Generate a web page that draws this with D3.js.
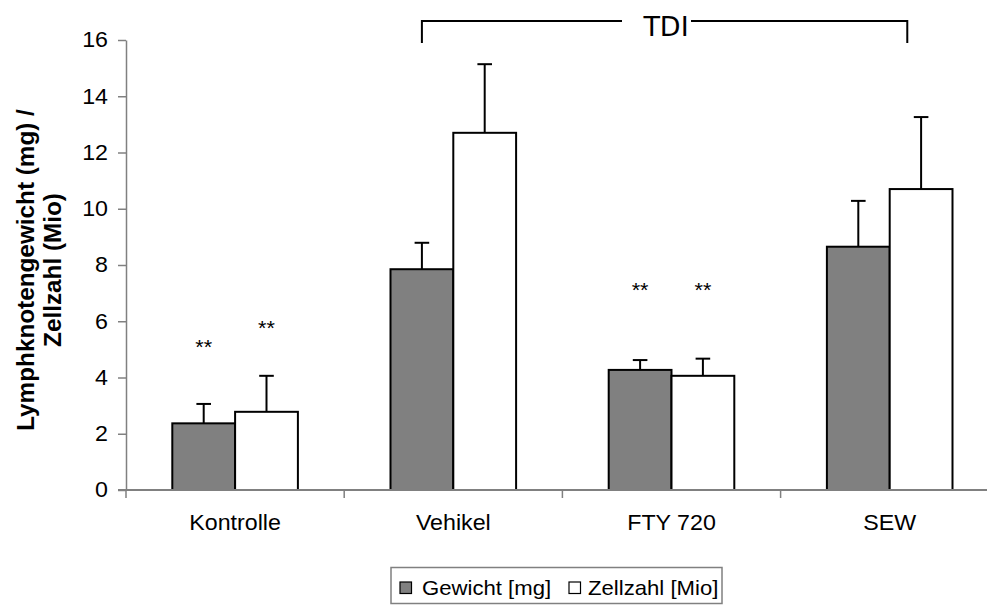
<!DOCTYPE html>
<html>
<head>
<meta charset="utf-8">
<script src="https://cdn.jsdelivr.net/npm/d3@7"></script>
<style>
html,body{margin:0;padding:0;background:#fff;}
svg{display:block;font-family:"Liberation Sans",Arial,sans-serif;}
</style>
</head>
<body>
<svg id="chart" width="987" height="605"></svg>
<script>
// ---- data ----
const categories = ["Kontrolle", "Vehikel", "FTY 720", "SEW"];
const seriesNames = ["Gewicht [mg]", "Zellzahl [Mio]"];
const gewicht = [2.37, 7.85, 4.27, 8.65];
const gewichtErr = [0.69, 0.94, 0.35, 1.63];
const zellzahl = [2.78, 12.70, 4.06, 10.70];
const zellzahlErr = [1.28, 2.44, 0.61, 2.56];
const yTicks = [0, 2, 4, 6, 8, 10, 12, 14, 16];
// significance marks: [category, series index, y-level (value units)]
const sigMarks = [["Kontrolle", 0, 5.23], ["Kontrolle", 1, 5.91], ["FTY 720", 0, 7.24], ["FTY 720", 1, 7.24]];
const bracketLabel = "TDI";
const yTitle = ["Lymphknotengewicht (mg) /", "Zellzahl (Mio)"];

const colors = ["#808080", "#ffffff"];
const svg = d3.select("#chart");

const x0 = 126, yBase = 490, yTop = 40;
const step = 218.2;
const sx = 1.08; // horizontal text stretch of the original
const x = d3.scaleBand().domain(categories).range([x0, x0 + step * categories.length])
  .paddingInner(0.4244).paddingOuter(0.2122);
const xs = d3.scaleBand().domain([0, 1]).range([0, x.bandwidth()]);
const y = d3.scaleLinear().domain([0, 16]).range([yBase, yTop]);

function stretchedText(parent, px, py, str, size, anchor) {
  return parent.append("text").attr("transform", `translate(${px},${py}) scale(${sx},1)`)
    .attr("text-anchor", anchor || "start").attr("font-size", size).text(str);
}

const rows = categories.map((c, i) => ({
  cat: c,
  vals: [{s: 0, v: gewicht[i], e: gewichtErr[i]}, {s: 1, v: zellzahl[i], e: zellzahlErr[i]}]
}));

// bars
const g = svg.append("g");
const grp = g.selectAll("g.grp").data(rows).join("g").attr("transform", d => `translate(${x(d.cat)},0)`);
grp.selectAll("g.err").data(d => d.vals).join("g").each(function(d) {
  const cx = xs(d.s) + xs.bandwidth() / 2;
  const s = d3.select(this);
  s.append("line").attr("x1", cx).attr("x2", cx).attr("y1", y(d.v)).attr("y2", y(d.v + d.e))
    .attr("stroke", "#000").attr("stroke-width", 2);
  s.append("line").attr("x1", cx - 7.3).attr("x2", cx + 7.3).attr("y1", y(d.v + d.e)).attr("y2", y(d.v + d.e))
    .attr("stroke", "#000").attr("stroke-width", 2);
});
grp.selectAll("rect").data(d => d.vals).join("rect")
  .attr("x", d => xs(d.s)).attr("width", xs.bandwidth())
  .attr("y", d => y(d.v)).attr("height", d => y(0) - y(d.v))
  .attr("fill", d => colors[d.s]).attr("stroke", "#000").attr("stroke-width", 2);

// y axis
const yAxis = d3.axisLeft(y).tickValues(yTicks).tickSize(8).tickSizeOuter(0).tickPadding(10);
const ya = svg.append("g").attr("transform", `translate(${x0},0)`).call(yAxis);
ya.select(".domain").attr("stroke", "#808080").attr("stroke-width", 1.5);
ya.selectAll(".tick line").attr("stroke", "#808080").attr("stroke-width", 1.5);
ya.selectAll(".tick text").attr("font-size", 21.5).attr("font-family", "Liberation Sans, Arial, sans-serif")
  .attr("fill", "#000").attr("x", 0).attr("dx", 0).attr("text-anchor", "end")
  .attr("transform", `translate(-18,0) scale(${sx},1)`);

// x axis (manual, ticks at category boundaries)
svg.append("line").attr("x1", x0 - 8).attr("x2", 987).attr("y1", yBase).attr("y2", yBase)
  .attr("stroke", "#808080").attr("stroke-width", 2);
categories.forEach((c, i) => {
  const bx = x0 + step * i;
  svg.append("line").attr("x1", bx).attr("x2", bx).attr("y1", yBase).attr("y2", yBase + 8)
    .attr("stroke", "#808080").attr("stroke-width", 1.5);
  stretchedText(svg, x(c) + x.bandwidth() / 2, 530, c, 21.5, "middle");
});

// significance marks
sigMarks.forEach(([c, s, lv]) => {
  stretchedText(svg, x(c) + xs(s) + xs.bandwidth() / 2, y(lv) + 11, "**", 20, "middle");
});

// y title
const yt = svg.append("text").attr("transform", `translate(34,270) rotate(-90)`)
  .attr("text-anchor", "middle").attr("font-size", 24.3).attr("font-weight", "bold");
yt.append("tspan").attr("x", 0).attr("dy", 0).text(yTitle[0]);
yt.append("tspan").attr("x", 0).attr("dy", 27).text(yTitle[1]);

// TDI bracket
const bl = x("Vehikel") + x.bandwidth() * 0.25;
const br = x("SEW") + x.bandwidth() * 0.64;
const by = 21, bh = 22;
const tdiX = 666;
svg.append("path").attr("d", `M${bl},${by + bh}V${by}H${tdiX - 44}`).attr("fill", "none").attr("stroke", "#000").attr("stroke-width", 2);
svg.append("path").attr("d", `M${tdiX + 25},${by}H${br}V${by + bh}`).attr("fill", "none").attr("stroke", "#000").attr("stroke-width", 2);
svg.append("text").attr("x", tdiX).attr("y", 36).attr("text-anchor", "middle")
  .attr("font-size", 27).attr("font-family", "DejaVu Sans, sans-serif").text(bracketLabel);

// legend
const lg = svg.append("g");
lg.append("rect").attr("x", 391).attr("y", 567.5).attr("width", 331).attr("height", 36)
  .attr("fill", "#fff").attr("stroke", "#808080").attr("stroke-width", 1.5);
const legX = [400, 569], legTX = [422, 588];
seriesNames.forEach((n, i) => {
  lg.append("rect").attr("x", legX[i]).attr("y", 582).attr("width", 11.5).attr("height", 11.5)
    .attr("fill", colors[i]).attr("stroke", "#000").attr("stroke-width", 1.2);
  stretchedText(lg, legTX[i], 594.5, n, 20.5, "start");
});
</script>
</body>
</html>
